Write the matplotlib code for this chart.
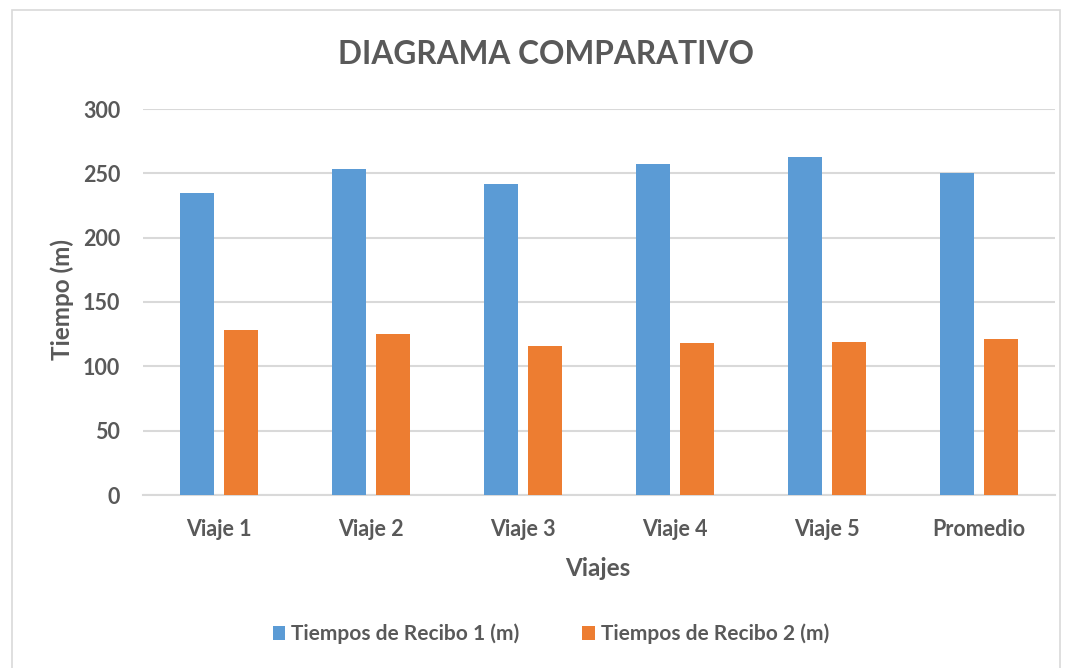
import matplotlib.pyplot as plt
import numpy as np
from matplotlib.patches import Rectangle

# data
viajes = ["Viaje 1", "Viaje 2", "Viaje 3", "Viaje 4", "Viaje 5", "Promedio"]
recibo1 = [235, 253, 242, 257, 263, 250]
recibo2 = [128, 125, 116, 118, 119, 121]
y_ticks = [0, 50, 100, 150, 200, 250, 300]

plt.rcParams['font.family'] = ['Lato', 'DejaVu Sans']
txt = '#595959'
grid = '#d9d9d9'

W, H = 1073, 668
fig = plt.figure(figsize=(W / 100, H / 100), dpi=100)
ax = fig.add_axes([143/W, 1 - 495/H, 912/W, 386/H])

x = np.arange(len(viajes))
w = 0.224
ax.bar(x - 0.143, recibo1, w, color='#5b9bd5', label='Tiempos de Recibo 1 (m)', zorder=3)
ax.bar(x + 0.143, recibo2, w, color='#ed7d31', label='Tiempos de Recibo 2 (m)', zorder=3)

ax.set_xlim(-0.5, len(viajes) - 0.5)
ax.set_ylim(0, 300)
ax.set_yticks(y_ticks)
ax.set_xticks(x)
ax.set_xticklabels(viajes)
ax.grid(axis='y', color=grid, linewidth=1.5, zorder=0)
for s in ['top', 'right', 'left']:
    ax.spines[s].set_visible(False)
ax.spines['bottom'].set_color(grid)
ax.spines['bottom'].set_linewidth(1.5)
ax.tick_params(length=0, colors=txt, labelsize=15.5)
ax.tick_params(axis='x', pad=17)
ax.tick_params(axis='y', pad=16.5)
for lbl in ax.get_xticklabels() + ax.get_yticklabels():
    lbl.set_fontweight('bold')

# axis titles placed like in the original
fig.text(598/W, 1 - 568/H, 'Viajes', ha='center', va='center',
         fontsize=17.5, fontweight='bold', color=txt)
fig.text(62/W, 1 - 299/H, 'Tiempo (m)', ha='center', va='center', rotation=90,
         fontsize=17.5, fontweight='bold', color=txt)

fig.text(546/W, 1 - 55/H, 'DIAGRAMA COMPARATIVO', ha='center', va='center',
         fontsize=22.8, fontweight='bold', color=txt)

leg = fig.legend(loc='center', bbox_to_anchor=(551/W, 1 - 634/H), ncol=2,
                 frameon=False, fontsize=15, handlelength=0.6, handleheight=0.6,
                 handletextpad=0.3, columnspacing=3)
for t in leg.get_texts():
    t.set_color(txt)
    t.set_fontweight('bold')

fig.patches.append(Rectangle((12/W, -0.05), 1048/W, 1.05 - 10/H,
                             transform=fig.transFigure, fill=False,
                             edgecolor=grid, linewidth=1.2))

fig.savefig('out.png', dpi=100)
